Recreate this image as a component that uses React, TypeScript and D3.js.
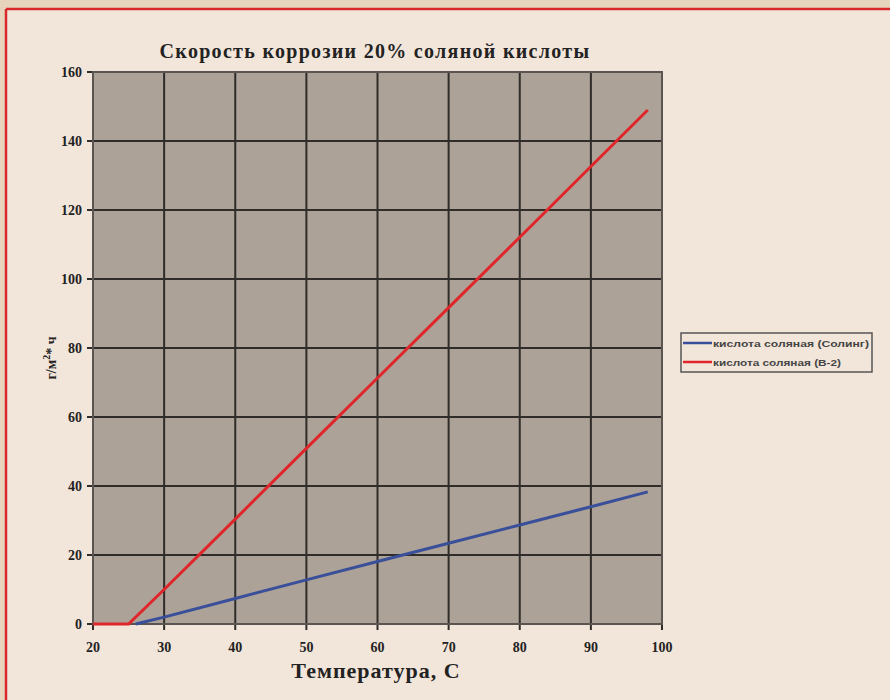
import React from "react";
import * as d3 from "d3";

const title = "Скорость коррозии 20% соляной кислоты";
const xLabel = "Температура, С";
const xTicks = [20, 30, 40, 50, 60, 70, 80, 90, 100];
const yTicks = [0, 20, 40, 60, 80, 100, 120, 140, 160];
const seriesNames = ["кислота соляная (Солинг)", "кислота соляная (В-2)"];
const seriesColors = ["#3a4f9a", "#e0262a"];
const legendTextWidths = [156, 128];
const blueX = [26, 30, 40, 50, 60, 70, 80, 90, 98];
const blueY = [0, 2, 7.4, 12.8, 18.1, 23.4, 28.7, 34, 38.3];
const redX = [20, 25, 30, 40, 50, 60, 70, 80, 90, 98];
const redY = [0, 0, 10, 30.4, 50.9, 71.3, 91.7, 112.1, 132.6, 149];

export default function App() {
  const W = 890, H = 700;
  const x = d3.scaleLinear().domain([20, 100]).range([93, 662]);
  const y = d3.scaleLinear().domain([0, 160]).range([624, 72]);
  const line = d3.line<[number, number]>().x(d => x(d[0])).y(d => y(d[1]));
  const blue = blueX.map((v, i) => [v, blueY[i]] as [number, number]);
  const red = redX.map((v, i) => [v, redY[i]] as [number, number]);
  const serif = "'Liberation Serif', 'DejaVu Serif', serif";
  return (
    <svg width={W} height={H} style={{ position: "absolute", left: 0, top: 0 }}>
      <rect x={0} y={0} width={W} height={H} fill="#e6d4bd" />
      <rect x={6} y={9} width={W} height={H} fill="#f2e5d9" />
      <line x1={6} x2={W} y1={9} y2={9} stroke="#d9282c" strokeWidth={2.5} />
      <line x1={6} x2={6} y1={9} y2={H} stroke="#d9282c" strokeWidth={2.5} />
      <text x={375} y={58} textAnchor="middle" fontFamily={serif} fontWeight="bold" fontSize={20} letterSpacing={1.3} fill="#222">{title}</text>
      <rect x={x(20)} y={y(160)} width={x(100) - x(20)} height={y(0) - y(160)} fill="#aca298" />
      {xTicks.map(t => (
        <line key={"gx" + t} x1={x(t)} x2={x(t)} y1={y(160)} y2={y(0) + 6} stroke="#2f2c29" strokeWidth={2} />
      ))}
      {yTicks.map(t => (
        <line key={"gy" + t} x1={x(20) - 6} x2={x(100)} y1={y(t)} y2={y(t)} stroke="#2f2c29" strokeWidth={2} />
      ))}
      <rect x={x(20)} y={y(160)} width={x(100) - x(20)} height={y(0) - y(160)} fill="none" stroke="#5a5550" strokeWidth={2} />
      {yTicks.map(t => (
        <text key={"ty" + t} x={82} y={y(t) + 5} textAnchor="end" fontFamily={serif} fontWeight="bold" fontSize={14} fill="#222">{t}</text>
      ))}
      {xTicks.map(t => (
        <text key={"tx" + t} x={x(t)} y={652} textAnchor="middle" fontFamily={serif} fontWeight="bold" fontSize={14} fill="#222">{t}</text>
      ))}
      <text x={376} y={678} textAnchor="middle" fontFamily={serif} fontWeight="bold" fontSize={22} letterSpacing={1} fill="#222">{xLabel}</text>
      <text transform="translate(56,358) rotate(-90)" textAnchor="middle" fontFamily={serif} fontWeight="bold" fontSize={14} fill="#222">
        г/м<tspan dy={-6} fontSize={10}>2</tspan><tspan dy={6}>* ч</tspan>
      </text>
      <path d={line(blue) || ""} fill="none" stroke={seriesColors[0]} strokeWidth={3} />
      <path d={line(red) || ""} fill="none" stroke={seriesColors[1]} strokeWidth={3} />
      <rect x={681} y={333} width={191} height={39} fill="none" stroke="#555" strokeWidth={1.5} />
      {seriesNames.map((n, i) => (
        <g key={n}>
          <line x1={683} x2={712} y1={343 + i * 19} y2={343 + i * 19} stroke={seriesColors[i]} strokeWidth={2.5} />
          <text x={713} y={346.5 + i * 19} fontFamily="'Liberation Sans', Arial, sans-serif" fontSize={9} fontWeight="bold" fill="#444" textLength={legendTextWidths[i]} lengthAdjust="spacingAndGlyphs">{n}</text>
        </g>
      ))}
    </svg>
  );
}
